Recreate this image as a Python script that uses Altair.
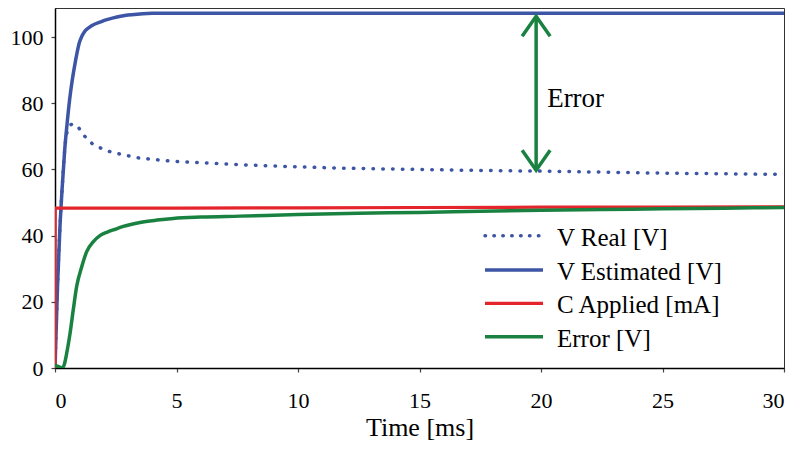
import altair as alt
import pandas as pd

# ---------------- data ----------------
t_real = [0, 0.1, 0.2, 0.3, 0.4, 0.5, 0.6, 0.75, 0.9, 1.17, 1.5, 1.9, 2.26, 2.65,
          3.03, 3.44, 3.84, 4.24, 4.65, 5.05, 5.84, 6.68, 7.5, 10, 12.5, 15, 17.5,
          20, 22.5, 25, 27.5, 30]
v_real = [0, 24, 42, 55, 66, 71.5, 73.3, 73.7, 73.2, 70.5, 68.0, 66.4, 65.4, 64.7,
          64.1, 63.5, 63.2, 62.9, 62.6, 62.4, 62.1, 61.8, 61.5, 60.8, 60.3, 60.0, 59.7,
          59.5, 59.2, 58.9, 58.7, 58.5]

t_est = [0, 0.1, 0.2, 0.3, 0.4, 0.5, 0.6, 0.7, 0.8, 0.9, 1.0, 1.1, 1.2, 1.4, 1.6,
         1.85, 2.1, 2.4, 2.7, 3.0, 3.5, 4.0, 5, 7, 10, 15, 20, 25, 30]
v_est = [0, 24, 42, 55, 66, 74, 81, 86.5, 91, 95, 98.3, 100.2, 101.5, 102.9, 103.8,
         104.5, 105.2, 105.8, 106.3, 106.7, 107.0, 107.2, 107.2, 107.2, 107.2, 107.2,
         107.2, 107.2, 107.2]

t_c = [0, 0.01, 1, 5, 10, 15, 20, 25, 30]
v_c = [0, 48.3, 48.3, 48.3, 48.4, 48.5, 48.6, 48.6, 48.7]

t_err = [0, 0.15, 0.3, 0.38, 0.48, 0.62, 0.75, 0.89, 1.1, 1.3, 1.58, 1.85, 2.13, 2.5,
         2.81, 3.5, 4.2, 4.87, 6, 7.6, 10, 12.5, 15, 17.5, 20, 22.5, 25, 27.5, 30]
v_err = [0.9, 0.4, 0, 1.0, 4.4, 10.5, 17.5, 24.6, 30.6, 35.1, 38.2, 40.0, 41.0, 42.0,
         42.8, 44.0, 44.7, 45.2, 45.6, 45.9, 46.4, 46.8, 47.0, 47.4, 47.7, 47.9, 48.1,
         48.3, 48.5]

series_names = ["V Real [V]", "V Estimated [V]", "C Applied [mA]", "Error [V]"]

arrow_t = [19.8]
arrow_top = [106.3]
arrow_bottom = [59.8]
arrow_label = ["Error"]

x_ticks = [0, 5, 10, 15, 20, 25, 30]
y_ticks = [0, 20, 40, 60, 80, 100]

# ---------------- styles ----------------
BLUE = "#3D55A5"
RED = "#E4262C"
GREEN = "#1A8240"
FONT = "Liberation Serif"

def frame(ts, vs, name):
    return pd.DataFrame({"t": ts, "v": vs, "series": name, "idx": range(len(ts))})

df = pd.concat([
    frame(t_real, v_real, series_names[0]),
    frame(t_est, v_est, series_names[1]),
    frame(t_c, v_c, series_names[2]),
    frame(t_err, v_err, series_names[3]),
], ignore_index=True)

X = alt.X("t:Q", scale=alt.Scale(domain=[0, 30], nice=False),
          axis=alt.Axis(values=x_ticks, title="Time [ms]", labelPadding=18,
                        titleY=67, titleBaseline="alphabetic", titleFontSize=26,
                        titleFont=FONT, titleFontWeight="normal", titleColor="black"))
Y = alt.Y("v:Q", scale=alt.Scale(domain=[0, 108.8], nice=False),
          axis=alt.Axis(values=y_ticks, title=None, labelPadding=8))

base = alt.Chart(df)

def series_layer(name, color, width, dash=None, interp="monotone"):
    kw = dict(color=color, strokeWidth=width, interpolate=interp, clip=True)
    if dash is not None:
        kw["strokeDash"] = dash
        kw["strokeCap"] = "round"
    return base.transform_filter(alt.datum.series == name).mark_line(**kw).encode(
        x=X, y=Y, order=alt.Order("idx:Q"))

l_real = series_layer(series_names[0], BLUE, 3.5, dash=[0.5, 9.3])
l_est = series_layer(series_names[1], BLUE, 3.5)
l_c = series_layer(series_names[2], RED, 3.2, interp="linear")
l_err = series_layer(series_names[3], GREEN, 3.5)

adf = pd.DataFrame({"t": arrow_t, "top": arrow_top, "bottom": arrow_bottom,
                    "label": arrow_label})
arrow_base = alt.Chart(adf)
arrow_line = arrow_base.mark_rule(color=GREEN, strokeWidth=3.5).encode(
    x=alt.X("t:Q"), y=alt.Y("top:Q"), y2="bottom:Q")
head_top = arrow_base.mark_point(
    shape="M-0.7,1L0,0L0.7,1", size=1600, filled=False, color=GREEN,
    strokeWidth=3.5, opacity=1, strokeJoin="miter").encode(x="t:Q", y="top:Q")
head_bot = arrow_base.mark_point(
    shape="M-0.7,-1L0,0L0.7,-1", size=1600, filled=False, color=GREEN,
    strokeWidth=3.5, opacity=1, strokeJoin="miter").encode(x="t:Q", y="bottom:Q")
arrow_text = arrow_base.mark_text(
    align="left", baseline="alphabetic", font=FONT, fontSize=27, color="black",
    dx=11).encode(x="t:Q", y=alt.datum(79.0), text="label:N")

# ---------------- legend (drawn in pixel space) ----------------
leg_x0, leg_x1, leg_tx = 430, 488, 502
leg_rows = [227.7, 262, 295.3, 328.7]
leg_colors = [BLUE, BLUE, RED, GREEN]
leg_widths = [3.5, 3.5, 3.2, 3.5]
one = pd.DataFrame({"a": [0]})
legend_layers = []
for i, name in enumerate(series_names):
    kw = dict(color=leg_colors[i], strokeWidth=leg_widths[i])
    if i == 0:
        kw["strokeDash"] = [0.5, 8.4]
        kw["strokeCap"] = "round"
    legend_layers.append(alt.Chart(one).mark_rule(**kw).encode(
        x=alt.value(leg_x0), x2=alt.value(leg_x1), y=alt.value(leg_rows[i])))
    legend_layers.append(alt.Chart(one).mark_text(
        align="left", baseline="alphabetic", font=FONT, fontSize=25,
        color="black", text=name).encode(
        x=alt.value(leg_tx), y=alt.value(leg_rows[i] + 10)))

chart = alt.layer(
    l_real, l_est, l_c, l_err, arrow_line, head_top, head_bot, arrow_text,
    *legend_layers
).properties(
    width=729, height=360,
    padding={"left": 47, "top": 0, "right": 8, "bottom": 80},
    autosize=alt.AutoSizeParams(type="none"),
).configure_view(
    stroke="#333", strokeWidth=1
).configure_axis(
    labelFont=FONT, labelFontSize=22, labelColor="black",
    domainColor="black", domainWidth=1.5, tickColor="#444", tickSize=4,
    tickWidth=1.2, grid=False
)

chart.save("out.html", embed_options={"renderer": "svg", "actions": False})
